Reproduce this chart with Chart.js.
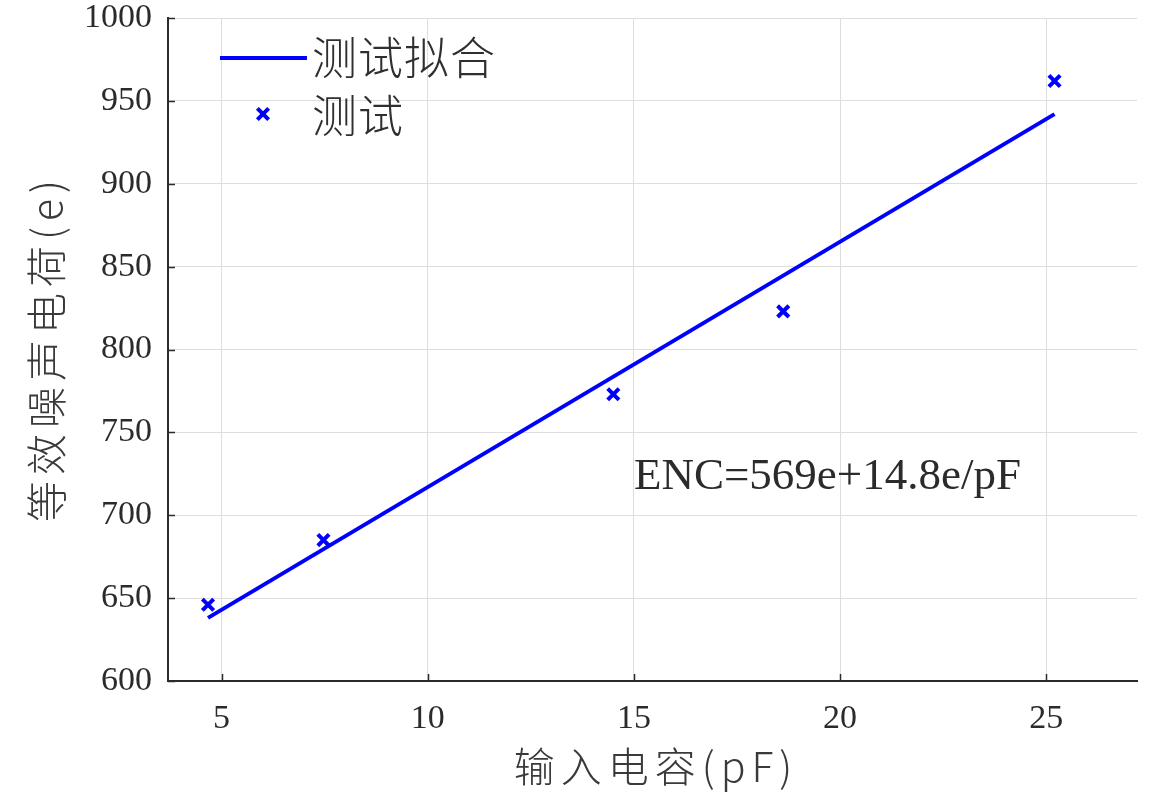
<!DOCTYPE html>
<html>
<head>
<meta charset="utf-8">
<script src="https://cdn.jsdelivr.net/npm/chart.js@4.4.1/dist/chart.umd.min.js"></script>
<style>
  html, body { margin: 0; padding: 0; background: #ffffff; overflow: hidden; }
  canvas { display: block; }
</style>
</head>
<body>
<canvas id="c" width="1149" height="793" style="width:1149px;height:793px"></canvas>
<script>
// Measured noise charge vs. input capacitance
const capacitance = [4.67, 7.47, 14.50, 18.62, 25.20];
const noiseCharge = [646, 685, 773, 823, 962];

// Linear fit endpoints (ENC = 569 + 14.8·C)
const fitCapacitance = [4.67, 25.20];
const fitNoiseCharge = [638.1, 942.0];

const xTickValues = [5, 10, 15, 20, 25];
const yTickValues = [600, 650, 700, 750, 800, 850, 900, 950, 1000];

const legendLabels = ['测试拟合', '测试'];
const xTitle = '输入电容(pF)';
const yTitle = '等效噪声电荷(e)';
const fitLabel = 'ENC=569e+14.8e/pF';
const fitLabelAt = { x: 15.0, y: 716 };

const BLUE = '#0000ff';
const INK = '#2b2b2b';
const SERIF = '"Liberation Serif", "DejaVu Serif", serif';
const CJK = '"Noto Sans CJK SC", "Noto Sans", sans-serif';

const toPoints = (xs, ys) => xs.map((x, i) => ({ x, y: ys[i] }));

// Axis titles, equation label, inward tick marks and the in-plot legend
const decorations = {
  id: 'decorations',
  afterDraw(chart) {
    const { ctx, chartArea, scales } = chart;
    const xs = scales.x, ys = scales.y;
    ctx.save();

    // inward tick marks
    ctx.strokeStyle = INK;
    ctx.lineWidth = 1.5;
    ctx.beginPath();
    xTickValues.forEach(v => {
      const px = Math.round(xs.getPixelForValue(v)) + 0.5;
      ctx.moveTo(px, chartArea.bottom);
      ctx.lineTo(px, chartArea.bottom - 7);
    });
    yTickValues.forEach(v => {
      const py = Math.round(ys.getPixelForValue(v)) + 0.5;
      ctx.moveTo(chartArea.left, py);
      ctx.lineTo(chartArea.left + 7, py);
    });
    ctx.stroke();

    // equation
    ctx.fillStyle = INK;
    ctx.font = '45px ' + SERIF;
    ctx.textAlign = 'left';
    ctx.textBaseline = 'alphabetic';
    ctx.fillText(fitLabel, xs.getPixelForValue(fitLabelAt.x), ys.getPixelForValue(fitLabelAt.y));

    // x title
    ctx.fillStyle = '#3a3a3a';
    ctx.font = '300 41px ' + CJK;
    ctx.textAlign = 'center';
    ctx.textBaseline = 'middle';
    ctx.letterSpacing = '6px';
    ctx.fillText(xTitle, 656, 766);

    // y title
    ctx.save();
    ctx.translate(46, 348);
    ctx.rotate(-Math.PI / 2);
    ctx.letterSpacing = '6px';
    ctx.fillText(yTitle, 0, 0);
    ctx.restore();
    ctx.letterSpacing = '0px';

    // legend
    const fitDs = chart.data.datasets[0];
    const ptDs = chart.data.datasets[1];
    ctx.strokeStyle = fitDs.borderColor;
    ctx.lineWidth = fitDs.borderWidth;
    ctx.beginPath();
    ctx.moveTo(220, 58);
    ctx.lineTo(307, 58);
    ctx.stroke();
    ctx.strokeStyle = ptDs.borderColor;
    ctx.lineWidth = ptDs.borderWidth;
    Chart.helpers.drawPoint(ctx, {
      pointStyle: ptDs.pointStyle,
      radius: ptDs.pointRadius,
      borderWidth: ptDs.borderWidth
    }, 263, 114);
    ctx.fillStyle = '#2f2f2f';
    ctx.font = '300 45px ' + CJK;
    ctx.textAlign = 'left';
    ctx.textBaseline = 'middle';
    ctx.letterSpacing = '1px';
    ctx.fillText(legendLabels[0], 312, 58);
    ctx.fillText(legendLabels[1], 312, 116);
    ctx.letterSpacing = '0px';

    ctx.restore();
  }
};

const tickFont = { family: SERIF, size: 34 };

new Chart(document.getElementById('c'), {
  type: 'scatter',
  data: {
    datasets: [
      {
        label: legendLabels[0],
        data: toPoints(fitCapacitance, fitNoiseCharge),
        showLine: true,
        borderColor: BLUE,
        backgroundColor: BLUE,
        borderWidth: 4,
        pointRadius: 0,
        pointHoverRadius: 0
      },
      {
        label: legendLabels[1],
        data: toPoints(capacitance, noiseCharge),
        showLine: false,
        pointStyle: 'crossRot',
        pointRadius: 8,
        borderWidth: 4,
        borderColor: BLUE,
        backgroundColor: BLUE
      }
    ]
  },
  options: {
    responsive: false,
    animation: false,
    devicePixelRatio: 1,
    layout: { padding: { top: 18, right: 7, left: 0, bottom: 0 } },
    plugins: { legend: { display: false }, tooltip: { enabled: false } },
    scales: {
      x: {
        type: 'linear',
        min: 3.7,
        max: 27.2,
        grid: { color: '#dedede', lineWidth: 1, drawTicks: false },
        border: { color: INK, width: 2 },
        afterBuildTicks: s => { s.ticks = xTickValues.map(v => ({ value: v })); },
        afterFit: s => { s.height = 112; s.paddingLeft = 0; s.paddingRight = 0; },
        ticks: { color: INK, font: tickFont, padding: 18, maxRotation: 0, callback: v => String(v) }
      },
      y: {
        type: 'linear',
        min: 600,
        max: 1000,
        grid: { color: '#dedede', lineWidth: 1, drawTicks: false },
        border: { color: INK, width: 2 },
        afterBuildTicks: s => { s.ticks = yTickValues.map(v => ({ value: v })); },
        afterFit: s => { s.width = 168; s.paddingTop = 0; s.paddingBottom = 0; },
        ticks: { color: INK, font: tickFont, padding: 16, callback: v => String(v) }
      }
    }
  },
  plugins: [decorations]
});
</script>
</body>
</html>
